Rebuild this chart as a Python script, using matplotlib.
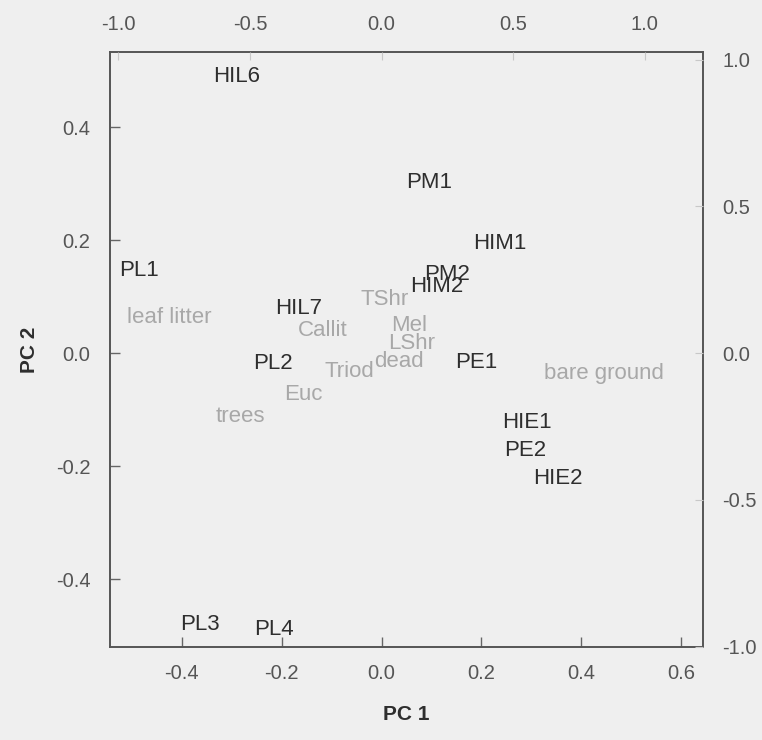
import matplotlib.pyplot as plt

plt.rcParams['font.family'] = ['Liberation Sans', 'DejaVu Sans']

# site scores (PC 1, PC 2)
sites = ["HIL6", "PM1", "HIM1", "PL1", "PM2", "HIM2", "HIL7", "PL2",
         "PE1", "HIE1", "PE2", "HIE2", "PL3", "PL4"]
site_pc1 = [-0.290, 0.095, 0.236, -0.486, 0.131, 0.111, -0.166, -0.218,
            0.189, 0.291, 0.287, 0.353, -0.364, -0.216]
site_pc2 = [0.494, 0.306, 0.198, 0.150, 0.143, 0.122, 0.083, -0.014,
            -0.012, -0.119, -0.168, -0.218, -0.476, -0.485]

# variable loadings (top / right scale)
variables = ["leaf litter", "TShr", "Callit", "Mel", "LShr", "Triod",
             "dead", "Euc", "trees", "bare ground"]
var_pc1 = [-0.806, 0.011, -0.224, 0.103, 0.114, -0.122, 0.065, -0.297,
           -0.536, 0.844]
var_pc2 = [0.129, 0.191, 0.085, 0.102, 0.041, -0.055, -0.020, -0.133,
           -0.208, -0.061]

bottom_ticks = [-0.4, -0.2, 0.0, 0.2, 0.4, 0.6]
left_ticks = [-0.4, -0.2, 0.0, 0.2, 0.4]
top_ticks = [-1.0, -0.5, 0.0, 0.5, 1.0]
right_ticks = [-1.0, -0.5, 0.0, 0.5, 1.0]

bg = "#efefef"
dark = "#2e2e2e"
light = "#a8a8a8"
tickcol = "#555555"
fs = 14.5
label_fs = 16

fig = plt.figure(figsize=(7.62, 7.40), dpi=100, facecolor=bg)
pos = [0.1444, 0.1257, 0.7782, 0.8041]
ax = fig.add_axes(pos)
ax.set_facecolor(bg)
ax.set_xlim(-0.544, 0.644)
ax.set_ylim(-0.520, 0.533)

for name, x, y in zip(sites, site_pc1, site_pc2):
    ax.text(x, y, name, color=dark, fontsize=label_fs, ha="center", va="center_baseline")

ax.set_xticks(bottom_ticks)
ax.set_yticks(left_ticks)
ax.set_xticklabels([f"{t:.1f}" for t in bottom_ticks])
ax.set_yticklabels([f"{t:.1f}" for t in left_ticks])
ax.tick_params(direction="in", length=7, width=1.0, color="#666666",
               labelcolor=tickcol, labelsize=fs)
ax.tick_params(axis="x", pad=12)
ax.tick_params(axis="y", pad=14)
for s in ax.spines.values():
    s.set_color("#555555")
    s.set_linewidth(1.4)

ax.set_xlabel("PC 1", fontsize=15, fontweight="bold", color=dark, labelpad=16)
ax.set_ylabel("PC 2", fontsize=15, fontweight="bold", color=dark, labelpad=12)

# second set of axes for the variables
ax2 = fig.add_axes(pos, frameon=False)
ax2.set_xlim(-1.032, 1.222)
ax2.set_ylim(-1.001, 1.026)
ax2.xaxis.tick_top()
ax2.yaxis.tick_right()
ax2.set_xticks(top_ticks)
ax2.set_yticks(right_ticks)
ax2.set_xticklabels([f"{t:.1f}" for t in top_ticks])
ax2.set_yticklabels([f"{t:.1f}" for t in right_ticks])
ax2.tick_params(direction="in", length=6, width=0.8, color="#c8c8c8",
                labelcolor=tickcol, labelsize=fs)
ax2.tick_params(axis="x", pad=13)
ax2.tick_params(axis="y", pad=14)

for name, x, y in zip(variables, var_pc1, var_pc2):
    ax2.text(x, y, name, color=light, fontsize=label_fs, ha="center", va="center_baseline")

fig.savefig("out.png", dpi=100, facecolor=bg)
